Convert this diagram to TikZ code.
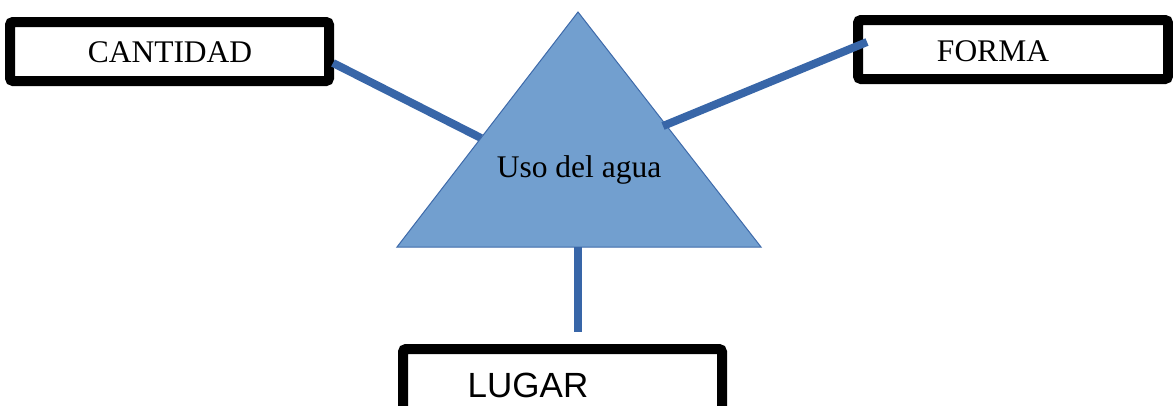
\documentclass[tikz,border=0pt]{standalone}
\usepackage{fontspec}
\setmainfont{Liberation Serif}
\newfontfamily\arialfont{Liberation Sans}
\usetikzlibrary{calc}
\definecolor{connblue}{RGB}{56,102,168}
\definecolor{trifill}{RGB}{114,159,207}
\definecolor{triedge}{RGB}{62,106,170}
\tikzset{
  boxnode/.style={draw=black, line width=10pt, rounded corners=3pt, fill=white, inner sep=0pt},
  conn/.style={draw=connblue, line width=8pt},
  lbl/.style={font=\fontsize{31.5}{36}\selectfont, inner sep=0pt},
}
\begin{document}
\begin{tikzpicture}[x=1pt,y=-1pt]
\useasboundingbox (0,0) rectangle (1173,405);
\clip (0,0) rectangle (1173,405);
% boxes
\node[boxnode, minimum width=319pt, minimum height=59pt] (cantbox) at (169.5,51.5) {};
\node[boxnode, minimum width=310pt, minimum height=59pt] (formabox) at (1013,49.5) {};
\node[boxnode, minimum width=319pt, minimum height=90pt] (lugarbox) at (562.5,394) {};
% triangle corners and connector ends
\coordinate (apex) at (578,12);
\coordinate (bl) at (397,247);
\coordinate (br) at (761,247);
\coordinate (leftend) at (481,138);
\coordinate (rightend) at (663,126);
\coordinate (basemid) at (578,247);
% left connector (below triangle)
\draw[conn] ($(cantbox.east)+(-1,11.5)$) -- (leftend);
% triangle
\filldraw[fill=trifill, draw=triedge, line width=1pt] (apex) -- (br) -- (bl) -- cycle;
% other connectors
\draw[conn] ($(formabox.west)+(14,-7.5)$) -- (rightend);
\draw[conn] (basemid) -- ($(lugarbox.north)+(15.5,-12)$);
% texts
\node[lbl] (cant) at (170,52) {CANTIDAD};
\node[lbl] (forma) at (993,51) {FORMA};
\node[lbl] (uso) at (579,170) {Uso del agua};
\node[inner sep=0pt, font=\arialfont\fontsize{35}{40}\selectfont, anchor=base] (lugar) at (528,397) {LUGAR};
\end{tikzpicture}
\end{document}
